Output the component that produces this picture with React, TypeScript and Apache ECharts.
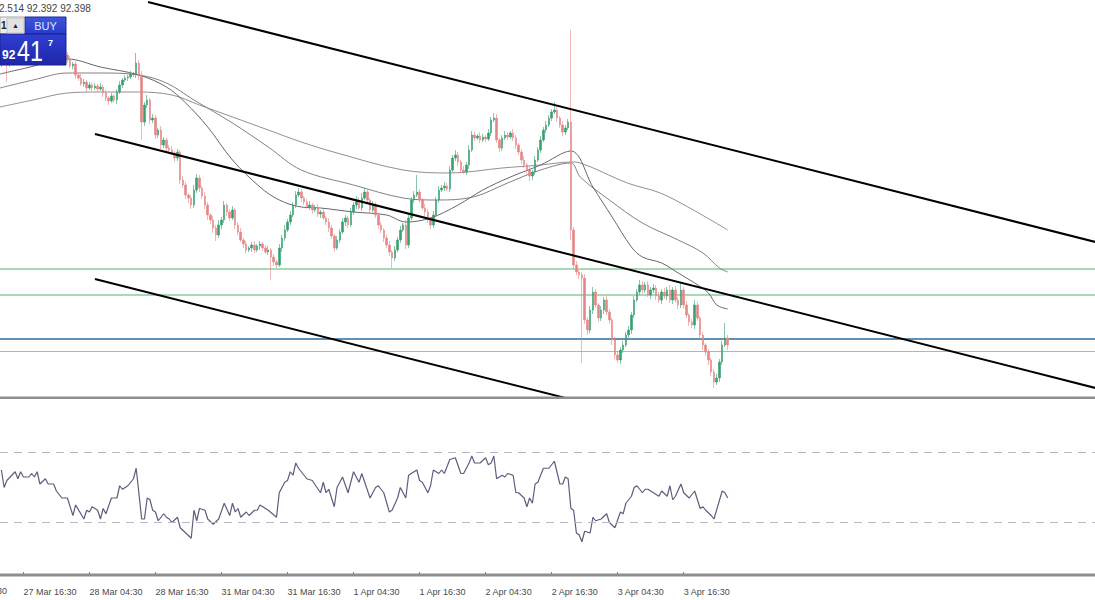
import React, { useEffect, useRef } from "react";
import * as echarts from "echarts";

// ---------- data ----------
const TOTAL_SLOTS = 398; // bar slots across the visible window (incl. empty future)
const FIRST_OPEN = 95.22;

// 30-minute closes, 27 Mar 12:30 .. 4 Apr 00:30
const closes = [
  95.24, 95.28, 95.22, 95.28, 95.31, 95.34, 95.36, 95.38, 95.39, 95.36,
  95.4, 95.42, 95.4, 95.43, 95.41, 95.44, 95.42, 95.39, 95.41, 95.38,
  95.36, 95.38, 95.34, 95.31, 95.26, 95.2, 95.22, 95.11, 95.08, 95.02,
  95.04, 94.98, 95.01, 94.98, 95.0, 94.97, 94.99, 94.93, 94.88, 94.85,
  94.9, 94.86, 94.94, 95.01, 95.06, 95.08, 95.09, 95.12, 95.12, 95.23,
  95.11, 94.64, 94.81, 94.86, 94.66, 94.68, 94.51, 94.56, 94.41, 94.46,
  94.38, 94.36, 94.33, 94.28, 94.34, 94.06, 94.01, 93.91, 93.88, 93.81,
  93.96, 94.08, 93.98, 93.9, 93.81, 93.71, 93.66, 93.58, 93.51, 93.61,
  93.66, 93.81, 93.74, 93.68, 93.76, 93.61, 93.54, 93.46, 93.42, 93.36,
  93.38, 93.41, 93.36, 93.4, 93.42, 93.38, 93.34, 93.36, 93.29, 93.24,
  93.21, 93.38, 93.48, 93.56, 93.64, 93.71, 93.81, 93.91, 93.94, 93.88,
  93.84, 93.79, 93.81, 93.76, 93.78, 93.72, 93.74, 93.68, 93.64, 93.58,
  93.5, 93.38, 93.46, 93.54, 93.64, 93.68, 93.61, 93.74, 93.81, 93.86,
  93.78, 93.88, 93.94, 93.86, 93.76, 93.81, 93.71, 93.61, 93.56, 93.48,
  93.41, 93.34, 93.28, 93.36, 93.46, 93.56, 93.61, 93.41, 93.68, 93.86,
  93.91, 93.94, 93.86, 93.78, 93.74, 93.66, 93.61, 93.71, 93.86, 93.96,
  93.98, 94.0, 93.97, 94.16, 94.28, 94.31, 94.24, 94.16, 94.14, 94.21,
  94.36, 94.51, 94.48, 94.5, 94.46, 94.49, 94.47, 94.53, 94.66, 94.68,
  94.46, 94.38, 94.48, 94.51, 94.49, 94.53, 94.48, 94.41, 94.34, 94.26,
  94.21, 94.16, 94.1, 94.14, 94.26, 94.36, 94.46, 94.56, 94.61, 94.68,
  94.74, 94.76, 94.68, 94.61, 94.54, 94.58, 94.64, 93.56, 93.21, 93.14,
  93.11, 93.08, 92.66, 92.56, 92.76, 92.94, 92.81, 92.68, 92.76, 92.86,
  92.74, 92.66, 92.46, 92.31, 92.26, 92.36, 92.41, 92.51, 92.56, 92.71,
  92.86, 92.94, 93.01, 92.96, 93.01, 92.91, 92.96, 92.98, 92.9, 92.86,
  92.94, 92.9, 92.96, 92.86, 92.96, 92.86, 92.81, 92.96, 92.81, 92.71,
  92.64, 92.61, 92.81, 92.68, 92.51, 92.41, 92.34, 92.26, 92.14, 92.04,
  92.08, 92.24, 92.41, 92.48, 92.41,
];

// wick lengths above / below the body, in hundredths of a yen
const upperWicks = [
  2, 3, 4, 2, 3, 2, 4, 3, 2, 3, 2, 3, 2, 4, 2, 3, 2, 3, 2, 3,
  3, 2, 4, 2, 3, 4, 2, 3, 2, 4, 3, 2, 3, 2, 3, 2, 4, 2, 3, 2,
  3, 2, 3, 4, 2, 3, 2, 3, 2, 10, 3, 4, 3, 5, 2, 4, 3, 2, 4, 3,
  2, 3, 4, 2, 3, 2, 4, 3, 2, 3, 5, 4, 3, 2, 4, 3, 2, 4, 3, 5,
  3, 4, 2, 3, 4, 2, 3, 4, 2, 3, 2, 3, 4, 2, 3, 2, 3, 4, 2, 3,
  2, 4, 3, 5, 3, 4, 3, 4, 4, 3, 2, 3, 4, 2, 3, 4, 2, 3, 2, 4,
  3, 2, 4, 3, 4, 3, 2, 4, 3, 4, 3, 5, 4, 3, 2, 4, 3, 2, 3, 2,
  3, 4, 2, 4, 3, 4, 2, 5, 4, 3, 4, 17, 3, 2, 4, 3, 2, 4, 3, 4,
  3, 4, 3, 4, 3, 5, 3, 2, 4, 3, 5, 4, 3, 2, 4, 3, 2, 4, 3, 5,
  4, 2, 3, 4, 3, 2, 4, 3, 2, 3, 4, 2, 3, 2, 4, 3, 4, 3, 4, 3,
  3, 8, 3, 2, 4, 3, 3, 92, 3, 4, 2, 3, 4, 3, 4, 5, 3, 2, 4, 3,
  4, 3, 2, 3, 4, 3, 4, 3, 4, 3, 4, 3, 5, 4, 3, 4, 3, 4, 3, 4,
  3, 4, 3, 5, 3, 4, 3, 7, 3, 4, 2, 3, 5, 3, 2, 3, 2, 3, 2, 3,
  4, 3, 4, 15, 3,
];
const lowerWicks = [
  3, 2, 18, 3, 2, 3, 2, 3, 4, 2, 3, 2, 3, 2, 3, 4, 2, 3, 2, 3,
  2, 3, 2, 4, 3, 2, 3, 4, 3, 2, 3, 4, 2, 3, 2, 3, 2, 4, 3, 4,
  2, 3, 4, 2, 3, 2, 3, 2, 3, 4, 5, 18, 4, 3, 4, 3, 4, 3, 4, 3,
  4, 3, 2, 4, 3, 4, 3, 4, 5, 4, 3, 3, 4, 3, 4, 5, 4, 5, 6, 3,
  4, 3, 4, 3, 2, 4, 3, 2, 4, 3, 2, 4, 3, 2, 4, 3, 2, 3, 23, 4,
  3, 2, 4, 3, 2, 3, 2, 3, 2, 4, 3, 2, 3, 4, 2, 3, 4, 2, 3, 4,
  3, 4, 2, 3, 2, 4, 3, 2, 3, 4, 2, 3, 2, 3, 4, 2, 3, 4, 3, 4,
  3, 4, 10, 3, 2, 3, 2, 4, 3, 2, 3, 2, 3, 2, 4, 3, 4, 3, 2, 3,
  2, 3, 2, 3, 2, 3, 4, 3, 2, 3, 4, 2, 3, 2, 3, 2, 3, 2, 3, 2,
  3, 4, 3, 2, 3, 2, 3, 4, 3, 4, 3, 4, 5, 4, 3, 2, 3, 2, 3, 2,
  3, 2, 4, 3, 4, 3, 2, 10, 4, 3, 4, 85, 4, 5, 3, 4, 3, 4, 3, 4,
  3, 4, 5, 4, 3, 4, 3, 2, 3, 4, 3, 2, 3, 4, 3, 2, 4, 3, 4, 3,
  4, 3, 4, 3, 4, 3, 4, 3, 4, 3, 4, 3, 4, 3, 4, 5, 4, 5, 4, 6,
  3, 4, 3, 2, 5,
];

// moving averages: [bar, price]
const maFast = [
  [-0.5, 95.12], [9, 95.18], [24, 95.27], [36, 95.19], [50, 95.11], [60, 94.99],
  [67, 94.83], [75, 94.59], [84, 94.26], [94, 93.99], [101, 93.86], [109, 93.79],
  [116, 93.78], [128, 93.74], [140, 93.71], [147, 93.64], [156, 93.68], [166, 93.81],
  [175, 93.96], [185, 94.09], [196, 94.21], [207, 94.35], [215, 93.99], [222, 93.69],
  [229, 93.39], [233, 93.29], [240, 93.23], [246, 93.13], [252, 93.03], [257, 92.93],
  [260, 92.81], [264, 92.77],
];
const maMid = [
  [-0.5, 94.98], [11.5, 95.06], [24, 95.13], [36, 95.13], [50, 95.11], [60, 95.03],
  [70, 94.86], [84, 94.63], [97, 94.39], [109, 94.16], [128, 94.01], [146, 93.88],
  [158, 93.86], [171.5, 93.89], [184, 94.03], [196, 94.16], [207, 94.23], [210.4, 94.09],
  [221, 93.86], [233, 93.63], [246, 93.46], [255, 93.33], [261, 93.18], [264, 93.14],
];
const maSlow = [
  [-0.5, 94.79], [11.5, 94.86], [24, 94.93], [36, 94.94], [50, 94.94], [62, 94.91],
  [72, 94.81], [84, 94.69], [97, 94.56], [109, 94.44], [122, 94.33], [146, 94.16],
  [163, 94.13], [182, 94.18], [196, 94.21], [207, 94.24], [210.4, 94.23], [227.5, 94.03],
  [239.5, 93.93], [251.5, 93.76], [264, 93.56],
];

// channel trend lines: [bar, price] end points
const channelUpper = [[53.3, 95.84], [397.7, 93.44]];
const channelMiddle = [[34, 94.52], [397.7, 91.98]];
const channelLower = [[34, 93.07], [397.7, 90.54]];

// horizontal levels
const greenLevels = [93.17, 92.91];
const blueLevel = 92.47;
const greyLevel = 92.35;

// RSI
const rsiBars = [
  0, 1, 2, 5, 6, 7, 8, 10, 11, 12, 13, 14, 16, 17, 19, 20, 22, 24, 26, 27,
  30, 31, 32, 33, 35, 36, 37, 38, 40, 42, 43, 44, 46, 47, 48, 49, 51, 52, 53, 54,
  55, 56, 57, 59, 60, 61, 62, 64, 65, 67, 69, 70, 71, 72, 74, 75, 77, 79, 81, 83,
  84, 85, 86, 87, 89, 90, 92, 93, 94, 97, 100, 101, 103, 104, 105, 106, 107, 108, 111, 113,
  116, 117, 118, 119, 121, 122, 124, 126, 128, 130, 131, 134, 136, 137, 139, 141, 142, 144, 145, 147,
  148, 151, 152, 153, 155, 156, 157, 159, 160, 161, 163, 165, 167, 168, 170, 171, 172, 174, 176, 177,
  178, 179, 180, 182, 183, 184, 186, 187, 188, 190, 191, 192, 193, 194, 195, 197, 199, 201, 203, 204,
  205, 206, 207, 208, 209, 210, 211, 212, 214, 215, 216, 218, 220, 221, 223, 225, 226, 227, 229, 230,
  231, 233, 234, 235, 237, 239, 240, 242, 243, 244, 245, 247, 248, 250, 252, 254, 255, 256, 258, 259,
  262, 263, 264,
];
const rsiValues = [
  60, 50, 54, 59, 55, 59, 56, 56, 58, 56, 59, 52, 55, 52, 52, 48, 44, 44, 34, 40,
  32, 37, 36, 39, 37, 32, 38, 35, 44, 44, 51, 49, 51, 53, 55, 61, 32, 32, 44, 43,
  37, 36, 31, 35, 33, 32, 30, 33, 27, 24, 21, 37, 31, 38, 37, 32, 29, 32, 41, 34,
  41, 36, 38, 33, 36, 34, 37, 37, 40, 37, 33, 47, 53, 54, 59, 57, 64, 61, 55, 54,
  47, 53, 47, 49, 39, 50, 56, 47, 59, 53, 58, 44, 50, 51, 47, 36, 37, 44, 50, 44,
  57, 60, 54, 53, 47, 51, 60, 58, 60, 58, 66, 67, 58, 58, 64, 68, 64, 64, 67, 63,
  64, 68, 55, 57, 56, 58, 57, 47, 47, 44, 39, 44, 41, 52, 53, 61, 61, 65, 52, 52,
  56, 55, 38, 37, 24, 23, 19, 25, 24, 33, 31, 32, 35, 30, 27, 36, 35, 41, 45, 50,
  51, 47, 49, 49, 47, 45, 48, 45, 51, 43, 45, 52, 47, 44, 48, 38, 39, 37, 34, 32,
  48, 47, 44,
];
const rsiLevels = [70, 30];

// time axis labels
const tickBars = [8, 32, 56, 80, 104, 128, 152, 176, 200, 224, 248];
const tickLabels = [
  "27 Mar 16:30", "28 Mar 04:30", "28 Mar 16:30", "31 Mar 04:30", "31 Mar 16:30",
  "1 Apr 04:30", "1 Apr 16:30", "2 Apr 04:30", "2 Apr 16:30", "3 Apr 04:30", "3 Apr 16:30",
];
const offscreenLabel = "27 Mar 04:30";

// quote panel texts
const ohlcText = "2.514 92.392 92.398";
const bidBig = "92";
const bidPips = "41";
const bidFrac = "7";
const buyText = "BUY";

// ---------- chart ----------
const FONT = '"Liberation Sans Narrow", "Liberation Sans", Arial, sans-serif';

function buildOption() {
  const categories = Array.from({ length: TOTAL_SLOTS }, (_, i) => String(i));
  const candleData = closes.map((c, i) => {
    const o = i === 0 ? FIRST_OPEN : closes[i - 1];
    const hi = Math.max(o, c) + upperWicks[i] / 100;
    const lo = Math.min(o, c) - lowerWicks[i] / 100;
    return [o, c, +lo.toFixed(3), +hi.toFixed(3)];
  });
  const rsiData = rsiBars.map((b, i) => [b, rsiValues[i]]);
  const isTick = (idx: number) => tickBars.indexOf(idx) >= 0;

  const maLine = (data: number[][], color: string) => ({
    type: "line",
    xAxisIndex: 1,
    yAxisIndex: 0,
    data,
    smooth: 0.35,
    symbol: "none",
    silent: true,
    lineStyle: { color, width: 1 },
    z: 3,
  });
  const channel = (data: number[][]) => ({
    type: "line",
    xAxisIndex: 1,
    yAxisIndex: 0,
    data,
    symbol: "none",
    silent: true,
    clip: true,
    lineStyle: { color: "#000000", width: 2 },
    z: 6,
  });

  return {
    animation: false,
    backgroundColor: "#ffffff",
    grid: [
      { left: 0, right: 0, top: 0, height: 397 },
      { left: 0, right: 0, top: 400, height: 175 },
    ],
    xAxis: [
      { type: "category", gridIndex: 0, data: categories, boundaryGap: true, show: false },
      { type: "value", gridIndex: 0, min: -0.5, max: TOTAL_SLOTS - 0.5, show: false },
      {
        type: "category",
        gridIndex: 1,
        data: categories,
        boundaryGap: true,
        position: "bottom",
        offset: 8,
        axisLine: { show: true, lineStyle: { color: "#a0a0a0", width: 1 } },
        axisTick: {
          show: true,
          alignWithLabel: true,
          inside: true,
          length: 3,
          interval: (idx: number) => isTick(idx),
          lineStyle: { color: "#808080" },
        },
        axisLabel: {
          interval: (idx: number) => isTick(idx),
          formatter: (_v: string, idx: number) => {
            const k = tickBars.indexOf(idx);
            return k >= 0 ? tickLabels[k] : "";
          },
          align: "left",
          margin: 4,
          fontSize: 9,
          fontFamily: FONT,
          color: "#4a4a4a",
        },
        splitLine: { show: false },
      },
      { type: "value", gridIndex: 1, min: -0.5, max: TOTAL_SLOTS - 0.5, show: false },
    ],
    yAxis: [
      { type: "value", gridIndex: 0, min: 91.89, max: 95.86, show: false, splitLine: { show: false } },
      { type: "value", gridIndex: 1, min: 0, max: 100, show: false, splitLine: { show: false } },
    ],
    series: [
      {
        type: "candlestick",
        xAxisIndex: 0,
        yAxisIndex: 0,
        data: candleData,
        barWidth: 2,
        z: 4,
        itemStyle: {
          color: "#37a070",
          color0: "#e58686",
          borderColor: "#37a070",
          borderColor0: "#e58686",
          borderWidth: 0.6,
        },
        markLine: {
          silent: true,
          symbol: ["none", "none"],
          label: { show: false },
          data: [
            ...greenLevels.map((v) => ({ yAxis: v, lineStyle: { color: "#8ccb9c", width: 1.5, type: "solid" } })),
            { yAxis: blueLevel, lineStyle: { color: "#2c6a9e", width: 1.5, type: "solid" } },
            { yAxis: greyLevel, lineStyle: { color: "#b4b4b4", width: 1, type: "solid" } },
          ],
          z: 2,
        },
      },
      maLine(maSlow, "#978c98"),
      maLine(maMid, "#867e88"),
      maLine(maFast, "#6a6470"),
      channel(channelUpper),
      channel(channelMiddle),
      channel(channelLower),
      {
        type: "line",
        xAxisIndex: 3,
        yAxisIndex: 1,
        data: rsiData,
        symbol: "none",
        silent: true,
        lineStyle: { color: "#5e5d7e", width: 1.2 },
        markLine: {
          silent: true,
          symbol: ["none", "none"],
          label: { show: false },
          lineStyle: { color: "#b7b6c6", width: 1, type: [8, 6] },
          data: rsiLevels.map((v) => ({ yAxis: v })),
        },
      },
    ],
    graphic: {
      elements: [
        { type: "rect", shape: { x: 0, y: 396.5, width: 1095, height: 2.5 }, style: { fill: "#8e8e8e" }, silent: true, z: 10 },
        { type: "rect", shape: { x: 0, y: 573.5, width: 1095, height: 3 }, style: { fill: "#8e8e8e" }, silent: true, z: 10 },
        {
          type: "text",
          x: -46,
          y: 591,
          style: { text: offscreenLabel, font: `9px ${FONT}`, fill: "#4a4a4a", verticalAlign: "middle" },
          silent: true,
        },
        {
          type: "text",
          x: -1,
          y: 8,
          style: { text: ohlcText, font: `10px ${FONT}`, fill: "#444444", verticalAlign: "middle" },
          silent: true,
          z: 20,
        },
        // quote widget
        { type: "rect", shape: { x: 0, y: 17, width: 25, height: 17 }, style: { fill: "#ececec", stroke: "#a8a8a8", lineWidth: 1 }, silent: true, z: 20 },
        { type: "rect", shape: { x: 7, y: 18, width: 17, height: 15 }, style: { fill: "#e2e2e2", stroke: "#c4c4c4", lineWidth: 1 }, silent: true, z: 21 },
        { type: "text", x: 15.5, y: 25.5, style: { text: "▲", font: `7px ${FONT}`, fill: "#222", align: "center", verticalAlign: "middle" }, silent: true, z: 22 },
        { type: "text", x: 1, y: 25.5, style: { text: "1", font: `bold 10px ${FONT}`, fill: "#222", verticalAlign: "middle" }, silent: true, z: 22 },
        {
          type: "rect",
          shape: { x: 25, y: 17, width: 41, height: 17 },
          style: {
            fill: { type: "linear", x: 0, y: 0, x2: 0, y2: 1, colorStops: [{ offset: 0, color: "#3f55db" }, { offset: 1, color: "#2a3ccb" }] },
            stroke: "#1c2a9a",
            lineWidth: 1,
          },
          silent: true,
          z: 20,
        },
        { type: "text", x: 45.5, y: 26, style: { text: buyText, font: `11px ${FONT}`, fill: "#dfe6ff", align: "center", verticalAlign: "middle" }, silent: true, z: 22 },
        {
          type: "rect",
          shape: { x: 0, y: 34, width: 66, height: 31 },
          style: {
            fill: { type: "linear", x: 0, y: 0, x2: 0, y2: 1, colorStops: [{ offset: 0, color: "#2f3fd2" }, { offset: 1, color: "#1f26a8" }] },
            stroke: "#1a218f",
            lineWidth: 1,
          },
          silent: true,
          z: 20,
        },
        { type: "text", x: 2, y: 55, style: { text: bidBig, font: `bold 12px "Liberation Sans", Arial, sans-serif`, fill: "#ffffff", verticalAlign: "middle" }, silent: true, z: 22 },
        { type: "text", x: 17, y: 51, scaleX: 0.8, style: { text: bidPips, font: `29px "Liberation Sans", Arial, sans-serif`, fill: "#ffffff", verticalAlign: "middle" }, silent: true, z: 22 },
        { type: "text", x: 48, y: 43, style: { text: bidFrac, font: `bold 9px "Liberation Sans", Arial, sans-serif`, fill: "#ffffff", verticalAlign: "middle" }, silent: true, z: 22 },
      ],
    },
  };
}

export default function App() {
  const ref = useRef<HTMLDivElement>(null);
  useEffect(() => {
    document.body.style.margin = "0";
    const chart = echarts.init(ref.current as HTMLDivElement, null, { renderer: "svg" });
    chart.setOption(buildOption() as any);
    return () => chart.dispose();
  }, []);
  return <div ref={ref} style={{ width: 1095, height: 600, background: "#ffffff" }} />;
}
